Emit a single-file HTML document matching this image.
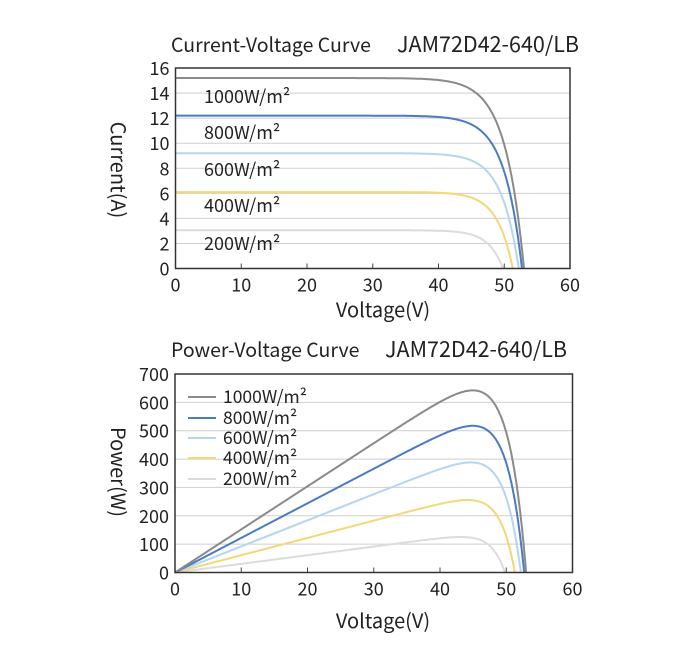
<!DOCTYPE html><html><head><meta charset="utf-8"><style>
body{margin:0;background:#fff}
svg text{font-family:"Noto Sans CJK SC","Liberation Sans",sans-serif;fill:#222}
</style></head><body>
<svg id="s" width="695" height="646" xmlns="http://www.w3.org/2000/svg"></svg>
<script>
const s=document.getElementById('s');let h='';
const series=[
 {c:'#dcdcdc',isc:3.05,voc:49.8,a:2.2,l:'200W/m²'},
 {c:'#f5d778',isc:6.1,voc:51.3,a:2.4,l:'400W/m²'},
 {c:'#b5d5f0',isc:9.2,voc:52.2,a:2.6,l:'600W/m²'},
 {c:'#4a7bc4',isc:12.2,voc:52.7,a:2.7,l:'800W/m²'},
 {c:'#8a8a8a',isc:15.2,voc:53.0,a:2.86,l:'1000W/m²'}];
function cur(o,v){return o.isc*(1-Math.exp((v-o.voc)/o.a));}
function chart(L,R,T,B,ymax,ystep,power){
 const X=v=>L+(R-L)*v/60,Y=y=>B-(B-T)*y/ymax;
 for(let y=ystep;y<ymax;y+=ystep)h+=`<line x1="${L}" x2="${R}" y1="${Y(y)}" y2="${Y(y)}" stroke="#cfcfcf" stroke-width="1"/>`;
 for(let v=10;v<60;v+=10)h+=`<line x1="${X(v)}" x2="${X(v)}" y1="${B}" y2="${B-5}" stroke="#444"/>`;
 for(const o of series){let d='';for(let v=0;v<=o.voc+0.001;v+=0.1){let i=Math.max(0,cur(o,v));let y=power?i*v:i;d+=(d?'L':'M')+X(v).toFixed(1)+' '+Y(y).toFixed(1);}
  d+='L'+X(o.voc).toFixed(1)+' '+B;
  h+=`<path d="${d}" fill="none" stroke="${o.c}" stroke-width="2"/>`;}
 h+=`<rect x="${L}" y="${T}" width="${R-L}" height="${B-T}" fill="none" stroke="#333" stroke-width="1.5"/>`;
 for(let y=0;y<=ymax;y+=ystep)h+=`<text x="${L-6}" y="${Y(y)+7}" font-size="18" text-anchor="end">${y}</text>`;
 for(let v=0;v<=60;v+=10)h+=`<text x="${X(v)}" y="${B+23}" font-size="18" text-anchor="middle">${v}</text>`;
}
chart(175.5,570,68,268.5,16,2,false);
chart(175,572.5,374,572.5,700,100,true);
h+=`<text x="171" y="52" font-size="19.5">Current-Voltage Curve</text><text x="397" y="52" font-size="21.5">JAM72D42-640/LB</text>`;
h+=`<text x="383" y="317" font-size="20" text-anchor="middle">Voltage(V)</text>`;
h+=`<text transform="translate(111,170) rotate(90)" font-size="20" text-anchor="middle">Current(A)</text>`;
const lb=[['1000W/m²',103],['800W/m²',139],['600W/m²',176],['400W/m²',212],['200W/m²',250]];
for(const [t,y] of lb)h+=`<text x="204" y="${y}" font-size="18">${t}</text>`;
h+=`<text x="171" y="357" font-size="19.5">Power-Voltage Curve</text><text x="385" y="357" font-size="21.5">JAM72D42-640/LB</text>`;
h+=`<text x="383" y="628" font-size="20" text-anchor="middle">Voltage(V)</text>`;
h+=`<text transform="translate(111,472) rotate(90)" font-size="20" text-anchor="middle">Power(W)</text>`;
const lg=[[4,397],[3,418],[2,438],[1,458],[0,479]];
for(const [i,y] of lg){h+=`<line x1="188" x2="216" y1="${y}" y2="${y}" stroke="${series[i].c}" stroke-width="2"/><text x="223" y="${y+6}" font-size="17.5">${series[i].l}</text>`;}
s.innerHTML=h;
</script></body></html>
